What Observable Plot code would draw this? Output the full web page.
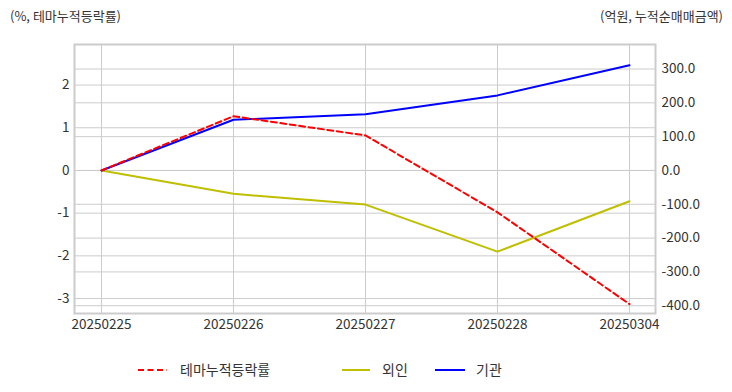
<!DOCTYPE html>
<html>
<head>
<meta charset="utf-8">
<script src="https://cdn.jsdelivr.net/npm/d3@7"></script>
<script src="https://cdn.jsdelivr.net/npm/@observablehq/plot@0.6"></script>
<style>
  body { margin: 0; background: #fff; font-family: "Noto Sans CJK KR", "Noto Sans", sans-serif; }
  #wrap { position: relative; width: 732px; height: 392px; overflow: hidden; }
  .ttl { position: absolute; top: 6px; font-size: 13px; color: #333; white-space: nowrap; }
  #legend { position: absolute; left: 0; top: 352px; }
</style>
</head>
<body>
<div id="wrap">
  <div class="ttl" id="tl" style="left:10px">(%, 테마누적등락률)</div>
  <div class="ttl" id="tr" style="right:9px">(억원, 누적순매매금액)</div>
  <div id="chart"></div>
  <svg id="legend" width="732" height="36"></svg>
</div>
<script>
const dates = ["20250225", "20250226", "20250227", "20250228", "20250304"];
const themeReturn = [0, 1.27, 0.82, -0.98, -3.13];      // %, left axis
const foreign = [0, -69, -101, -240, -91];             // 억원, right axis
const institution = [0, 150, 166, 222, 311];           // 억원, right axis
const leftTicks = [-3, -2, -1, 0, 1, 2];
const rightTicks = [-400, -300, -200, -100, 0, 100, 200, 300];
const seriesNames = ["테마누적등락률", "외인", "기관"];
const seriesColors = ["#ff0000", "#bfbf00", "#0000ff"];

const k = 0.00792; // right-axis units -> left-axis units
const leftDomain = [-3.35, 2.95];

const themeData = dates.map((d, i) => ({date: d, v: themeReturn[i]}));
const foreignData = dates.map((d, i) => ({date: d, v: foreign[i] * k}));
const instData = dates.map((d, i) => ({date: d, v: institution[i] * k}));
const rightTickPos = rightTicks.map(v => v * k);

const grid = "#cccccc";
const font = '"Noto Sans CJK KR", "Noto Sans", sans-serif';

const chart = Plot.plot({
  width: 732,
  height: 340,
  marginLeft: 74,
  marginRight: 77,
  marginTop: 44,
  marginBottom: 27,
  style: {fontFamily: font, fontSize: "13.5px", color: "#333", background: "transparent"},
  x: {type: "point", domain: dates, padding: 0.2},
  y: {domain: leftDomain},
  marks: [
    Plot.gridY(leftTicks, {stroke: grid, strokeOpacity: 1, strokeWidth: 1}),
    Plot.gridY(rightTickPos, {stroke: grid, strokeOpacity: 1, strokeWidth: 1}),
    Plot.gridX(dates, {stroke: grid, strokeOpacity: 1, strokeWidth: 1}),
    Plot.frame({stroke: "#cccccc", strokeWidth: 2}),
    Plot.line(foreignData, {x: "date", y: "v", stroke: seriesColors[1], strokeWidth: 2}),
    Plot.line(instData, {x: "date", y: "v", stroke: seriesColors[2], strokeWidth: 2}),
    Plot.line(themeData, {x: "date", y: "v", stroke: seriesColors[0], strokeWidth: 2, strokeDasharray: "6,3.5"}),
    Plot.axisY(leftTicks, {anchor: "left", tickSize: 0, tickPadding: 5, tickFormat: d => String(d), label: null, fill: "#333"}),
    Plot.axisY(rightTickPos, {anchor: "right", tickSize: 0, tickPadding: 6, tickFormat: d => Math.round(d / k).toFixed(1), label: null, fill: "#333"}),
    Plot.axisX(dates, {tickSize: 0, tickPadding: 6, label: null, fill: "#333"})
  ]
});
document.getElementById("chart").appendChild(chart);

// legend
const lg = d3.select("#legend");
const items = [
  {x1: 138, x2: 167, tx: 180, dash: "6,3.5"},
  {x1: 342, x2: 370, tx: 382, dash: null},
  {x1: 435, x2: 465, tx: 476, dash: null}
];
items.forEach((it, i) => {
  const l = lg.append("line").attr("x1", it.x1).attr("x2", it.x2).attr("y1", 18).attr("y2", 18)
    .attr("stroke", seriesColors[i]).attr("stroke-width", 2);
  if (it.dash) l.attr("stroke-dasharray", it.dash);
  lg.append("text").attr("x", it.tx).attr("y", 18).attr("dy", "0.35em")
    .attr("font-family", font).attr("font-size", 14).attr("fill", "#333").text(seriesNames[i]);
});
</script>
</body>
</html>
